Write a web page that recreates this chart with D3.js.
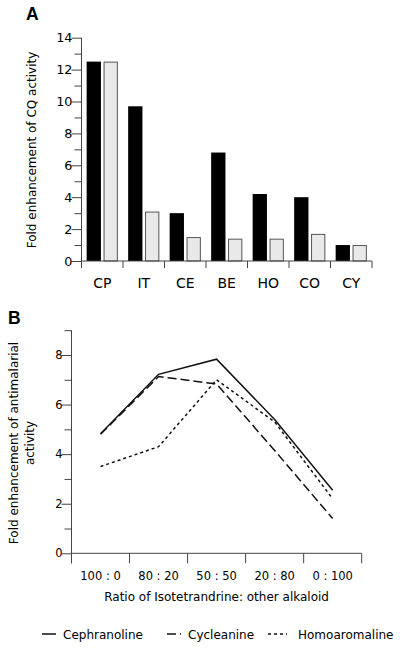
<!DOCTYPE html>
<html>
<head>
<meta charset="utf-8">
<script src="https://cdn.jsdelivr.net/npm/d3@7"></script>
<style>
  html, body { margin: 0; padding: 0; background: #fff; }
  svg { display: block; font-family: "DejaVu Sans", Verdana, sans-serif; }
</style>
</head>
<body>
<svg id="chart" width="400" height="650"></svg>
<script>
// ---- Panel A data ----
const categoriesA = ["CP", "IT", "CE", "BE", "HO", "CO", "CY"];
const blackValues = [12.5, 9.7, 3.0, 6.8, 4.2, 4.0, 1.0];
const greyValues  = [12.5, 3.1, 1.5, 1.4, 1.4, 1.7, 1.0];
const yTicksA = [0, 1, 2, 3, 4, 5, 6, 7, 8, 9, 10, 11, 12, 13, 14];

// ---- Panel B data ----
const ratios = ["100 : 0", "80 : 20", "50 : 50", "20 : 80", "0 : 100"];
const cephranoline  = [4.82, 7.22, 7.83, 5.4, 2.54];
const cycleanine    = [4.8, 7.13, 6.83, 4.15, 1.4];
const homoaromaline = [3.5, 4.3, 7.0, 5.3, 2.2];
const yTicksB = [0, 1, 2, 3, 4, 5, 6, 7, 8, 9];
const seriesNames = ["Cephranoline", "Cycleanine", "Homoaromaline"];

const svg = d3.select("#chart");
const axisColor = "#444";
const textColor = "#000";

// ================= PANEL A =================
const xA = d3.scaleBand().domain(categoriesA).range([81.5, 372]);
const yA = d3.scaleLinear().domain([0, 14]).range([261, 37.7]);
const gA = svg.append("g");

const barW = 14.3, gap = 2.6;
const off1 = (xA.bandwidth() - 2 * barW - gap) / 2;
gA.selectAll("rect.black").data(categoriesA).join("rect")
  .attr("x", d => xA(d) + off1)
  .attr("y", (d, i) => yA(blackValues[i]))
  .attr("width", barW)
  .attr("height", (d, i) => yA(0) - yA(blackValues[i]))
  .attr("fill", "#000");
gA.selectAll("rect.grey").data(categoriesA).join("rect")
  .attr("x", d => xA(d) + off1 + barW + gap + 0.5)
  .attr("y", (d, i) => yA(greyValues[i]) + 0.5)
  .attr("width", barW - 1)
  .attr("height", (d, i) => yA(0) - yA(greyValues[i]) - 0.5)
  .attr("fill", "#e9e9e9")
  .attr("stroke", "#555")
  .attr("stroke-width", 1);

const yAxA = gA.append("g").attr("transform", `translate(${xA.range()[0]},0)`)
  .call(d3.axisLeft(yA).tickValues(yTicksA)
    .tickFormat(d => d % 2 === 0 ? d : "")
    .tickSizeOuter(0).tickPadding(3));
yAxA.select(".domain").remove();
yAxA.selectAll(".tick line").attr("x2", d => d % 2 === 0 ? -10 : -7).attr("stroke", axisColor);
yAxA.selectAll(".tick text").attr("font-size", 12.8).attr("font-family", "DejaVu Sans").attr("fill", textColor);
gA.append("line").attr("x1", xA.range()[0]).attr("x2", xA.range()[0])
  .attr("y1", yA(14)).attr("y2", yA(0) + 7).attr("stroke", axisColor);

gA.append("line").attr("x1", xA.range()[0]).attr("x2", xA.range()[1])
  .attr("y1", yA(0)).attr("y2", yA(0)).attr("stroke", axisColor);
const boundsA = categoriesA.map(c => xA(c)).concat([xA.range()[1]]);
gA.selectAll("line.xt").data(boundsA).join("line")
  .attr("x1", d => d).attr("x2", d => d)
  .attr("y1", yA(0)).attr("y2", yA(0) + 7).attr("stroke", axisColor);
gA.selectAll("text.cat").data(categoriesA).join("text")
  .attr("x", d => xA(d) + xA.bandwidth() / 2)
  .attr("y", 288.3)
  .attr("text-anchor", "middle")
  .attr("font-size", 14)
  .attr("fill", textColor)
  .text(d => d);

gA.append("text")
  .attr("transform", "translate(36,150) rotate(-90)")
  .attr("text-anchor", "middle")
  .attr("font-size", 12)
  .attr("fill", textColor)
  .text("Fold enhancement of CQ activity");

svg.append("text").attr("x", 26).attr("y", 19.5)
  .attr("font-family", "Liberation Sans, Arial, sans-serif")
  .attr("font-weight", "bold").attr("font-size", 17.5).text("A");

// ================= PANEL B =================
const xB = d3.scaleBand().domain(ratios).range([71.5, 361.7]);
const yB = d3.scaleLinear().domain([0, 9]).range([553.3, 330.2]);
const gB = svg.append("g");

const yAxB = gB.append("g").attr("transform", `translate(${xB.range()[0]},0)`)
  .call(d3.axisLeft(yB).tickValues(yTicksB)
    .tickFormat(d => d % 2 === 0 ? d : "")
    .tickSizeOuter(0).tickPadding(3));
yAxB.select(".domain").remove();
yAxB.selectAll(".tick line").attr("x2", d => d % 2 === 0 ? -10 : -7).attr("stroke", axisColor);
yAxB.selectAll(".tick text").attr("font-size", 11.5).attr("font-family", "DejaVu Sans").attr("fill", textColor);
gB.append("line").attr("x1", xB.range()[0]).attr("x2", xB.range()[0])
  .attr("y1", yB(9)).attr("y2", yB(0) + 10).attr("stroke", axisColor);

gB.append("line").attr("x1", xB.range()[0]).attr("x2", xB.range()[1])
  .attr("y1", yB(0)).attr("y2", yB(0)).attr("stroke", axisColor);
const boundsB = ratios.map(c => xB(c)).concat([xB.range()[1]]);
gB.selectAll("line.xt").data(boundsB).join("line")
  .attr("x1", d => d).attr("x2", d => d)
  .attr("y1", yB(0)).attr("y2", yB(0) + 10).attr("stroke", axisColor);
gB.selectAll("text.cat").data(ratios).join("text")
  .attr("x", d => xB(d) + xB.bandwidth() / 2)
  .attr("y", 580)
  .attr("text-anchor", "middle")
  .attr("font-size", 11.5)
  .attr("fill", textColor)
  .text(d => d);

gB.append("text")
  .attr("x", (xB.range()[0] + xB.range()[1]) / 2)
  .attr("y", 601)
  .attr("text-anchor", "middle")
  .attr("font-size", 12)
  .attr("fill", textColor)
  .text("Ratio of Isotetrandrine: other alkaloid");

const ylab = gB.append("text")
  .attr("transform", "translate(18,443) rotate(-90)")
  .attr("text-anchor", "middle")
  .attr("font-size", 12)
  .attr("fill", textColor);
ylab.append("tspan").attr("x", 0).attr("dy", 0).text("Fold enhancement of antimalarial");
ylab.append("tspan").attr("x", 0).attr("dy", 15.5).text("activity");

svg.append("text").attr("x", 8).attr("y", 323.5)
  .attr("font-family", "Liberation Sans, Arial, sans-serif")
  .attr("font-weight", "bold").attr("font-size", 17.5).text("B");

const dashes = [null, "9,4", "3,3"];
const seriesData = [cephranoline, cycleanine, homoaromaline];
const line = d3.line()
  .x((d, i) => xB(ratios[i]) + xB.bandwidth() / 2)
  .y(d => yB(d));
seriesData.forEach((s, k) => {
  gB.append("path").datum(s)
    .attr("d", line)
    .attr("fill", "none")
    .attr("stroke", "#111")
    .attr("stroke-width", 1.5)
    .attr("stroke-dasharray", dashes[k]);
});

const legendX = [42, 167, 268];
const legendLen = [14, 14, 19];
const legendTextX = [63, 188, 298];
seriesNames.forEach((n, k) => {
  svg.append("line")
    .attr("x1", legendX[k]).attr("x2", legendX[k] + legendLen[k])
    .attr("y1", 634).attr("y2", 634)
    .attr("stroke", "#111").attr("stroke-width", 1.5)
    .attr("stroke-dasharray", dashes[k]);
  svg.append("text").attr("x", legendTextX[k]).attr("y", 638.5)
    .attr("font-size", 12).attr("fill", textColor).text(n);
});
</script>
</body>
</html>
